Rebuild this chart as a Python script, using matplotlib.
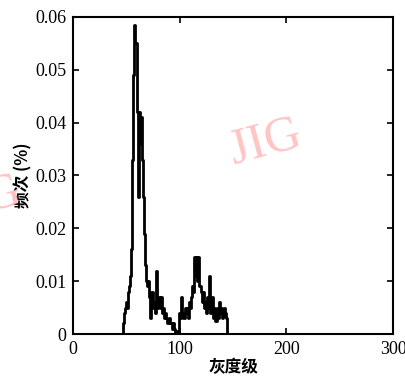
import numpy as np
import matplotlib
matplotlib.use("Agg")
import matplotlib.pyplot as plt

# gray-level histogram (levels 46..145)
gray_start = 46
freq = [
    0.0, 0.002, 0.004, 0.005, 0.006, 0.005, 0.008, 0.009, 0.011,          # 46-54
    0.016, 0.033, 0.049, 0.0585, 0.055, 0.042, 0.026, 0.042, 0.036, 0.041,  # 55-64
    0.033, 0.026, 0.019, 0.013, 0.010, 0.009, 0.010, 0.007, 0.003, 0.008,   # 65-74
    0.005, 0.006, 0.004, 0.012, 0.005, 0.006, 0.007, 0.005, 0.007, 0.004,   # 75-84
    0.005, 0.003, 0.004, 0.003, 0.002, 0.003, 0.002, 0.002, 0.001, 0.002,   # 85-94
    0.001, 0.0, 0.0005, 0.0, 0.0, 0.004, 0.003, 0.007, 0.004, 0.003,        # 95-104
    0.005, 0.004, 0.005, 0.003, 0.006, 0.005, 0.007, 0.009, 0.008, 0.0145,  # 105-114
    0.011, 0.0145, 0.010, 0.0145, 0.009, 0.008, 0.006, 0.008, 0.005, 0.006, # 115-124
    0.004, 0.007, 0.005, 0.011, 0.004, 0.006, 0.007, 0.003, 0.005, 0.0025,  # 125-134
    0.005, 0.003, 0.006, 0.004, 0.005, 0.003, 0.0035, 0.005, 0.004, 0.003,  # 135-144
    0.0,                                                                   # 145
]
gray = np.arange(gray_start, gray_start + len(freq))

xticks = [0, 100, 200, 300]
yticks = [0, 0.01, 0.02, 0.03, 0.04, 0.05, 0.06]
ytick_labels = ["0", "0.01", "0.02", "0.03", "0.04", "0.05", "0.06"]

serif = "Liberation Serif"
cjk = ["Noto Sans CJK SC", "DejaVu Sans"]

fig = plt.figure(figsize=(4.06, 3.77), dpi=100)
ax = fig.add_axes([0.180, 0.114, 0.788, 0.841])

ax.plot(gray, freq, color="black", linewidth=2.0, drawstyle="steps-mid")

ax.set_xlim(0, 300)
ax.set_ylim(0, 0.06)
ax.set_xticks(xticks)
ax.set_xticklabels([str(t) for t in xticks], fontfamily=serif, fontsize=13)
ax.set_yticks(yticks)
ax.set_yticklabels(ytick_labels, fontfamily=serif, fontsize=13)
ax.tick_params(direction="in", length=4, width=1.2, top=True, right=True, pad=5)
for s in ax.spines.values():
    s.set_linewidth(1.5)

ax.set_xlabel("灰度级", family=cjk, fontsize=12, fontweight="bold", labelpad=0)
ax.set_ylabel("频次 (%)", family=cjk, fontsize=12, fontweight="bold", labelpad=2)

# watermark (second copy is cut by the left edge, as in the scan)
fig.text(0.653, 0.623, "JIG", color="#ffc4c4", fontsize=36, family=serif,
         rotation=15, ha="center", va="center", zorder=0)
fig.text(-0.035, 0.47, "JIG", color="#ffc4c4", fontsize=36, family=serif,
         rotation=15, ha="center", va="center", zorder=0)

fig.savefig("out.png", dpi=100)
